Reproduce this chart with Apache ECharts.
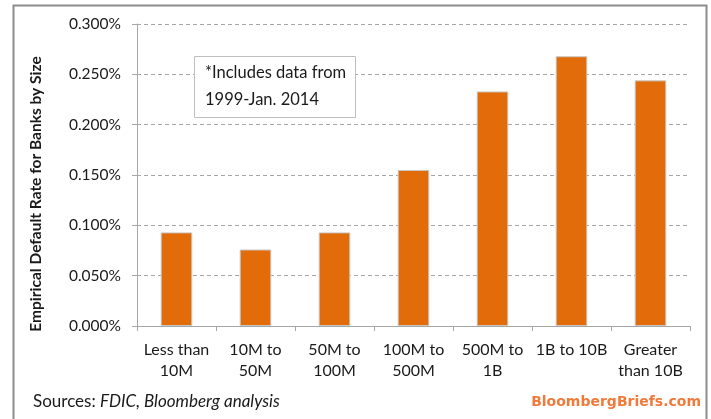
<!DOCTYPE html>
<html><head><meta charset="utf-8">
<script src="https://cdn.jsdelivr.net/npm/echarts@6/dist/echarts.min.js"></script>
<style>html,body{margin:0;padding:0;background:#fff}#c{width:711px;height:419px}</style>
</head><body><div id="c"></div>
<script>
const categories = ['Less than\n10M','10M to\n50M','50M to\n100M','100M to\n500M','500M to\n1B','1B to 10B','Greater\nthan 10B'];
const defaultRates = [0.093, 0.076, 0.093, 0.155, 0.233, 0.268, 0.244];
const yTicks = {min: 0, max: 0.3, interval: 0.05};
const FONT = 'Lato, "Open Sans", sans-serif';
const chart = echarts.init(document.getElementById('c'), null, {renderer: 'canvas'});
chart.setOption({
  animation: false,
  backgroundColor: '#fff',
  grid: {left: 137, right: 21, top: 24, bottom: 93, containLabel: false},
  graphic: [
    {type: 'rect', shape: {x: 13.5, y: 5.5, width: 693, height: 430}, style: {fill: 'none', stroke: '#8c8c8c', lineWidth: 2}, z: -1},
    {type: 'rect', shape: {x: 194.5, y: 56.5, width: 161, height: 61}, style: {fill: '#fff', stroke: '#bfbfbf', lineWidth: 1}, z: 10},
    {type: 'text', left: 205, top: 59, style: {text: '*Includes data from\n1999-Jan. 2014', font: '16.5px ' + FONT, fill: '#1a1a1a', lineHeight: 27}, z: 11},
    {type: 'text', x: 36, y: 194, rotation: Math.PI / 2, style: {text: 'Empirical Default Rate for Banks by Size', font: 'bold 15.5px ' + FONT, fill: '#1a1a1a', align: 'center', verticalAlign: 'middle'}, z: 11},
    {type: 'text', left: 33, top: 393, style: {rich: {a: {font: '17px ' + FONT, fill: '#1a1a1a'}, b: {font: 'italic 17px ' + FONT, fill: '#1a1a1a'}}, text: '{a|Sources: }{b|FDIC, Bloomberg analysis}'}, z: 11},
    {type: 'text', right: 10, top: 395, style: {text: 'BloombergBriefs.com', font: 'bold 14px "DejaVu Sans", sans-serif', fill: '#f07a3a'}, z: 11}
  ],
  xAxis: {
    type: 'category', data: categories,
    axisLine: {lineStyle: {color: '#a6a6a6', width: 1}},
    axisTick: {show: true, length: 5, alignWithLabel: false, lineStyle: {color: '#a6a6a6'}},
    axisLabel: {color: '#1a1a1a', fontSize: 16, fontFamily: FONT, margin: 13, lineHeight: 21, interval: 0}
  },
  yAxis: {
    type: 'value', min: yTicks.min, max: yTicks.max, interval: yTicks.interval,
    axisLine: {show: true, lineStyle: {color: '#a6a6a6'}},
    axisTick: {show: true, length: 5, lineStyle: {color: '#a6a6a6'}},
    axisLabel: {formatter: v => v.toFixed(3) + '%', color: '#1a1a1a', fontSize: 15.5, fontFamily: FONT, margin: 16},
    splitLine: {lineStyle: {color: '#a6a6a6', type: [4, 3]}}
  },
  series: [{
    type: 'bar', data: defaultRates, barWidth: '40%',
    itemStyle: {color: '#e36c0a', borderColor: '#c8c8c8', borderWidth: 1}
  }]
});
</script></body></html>
